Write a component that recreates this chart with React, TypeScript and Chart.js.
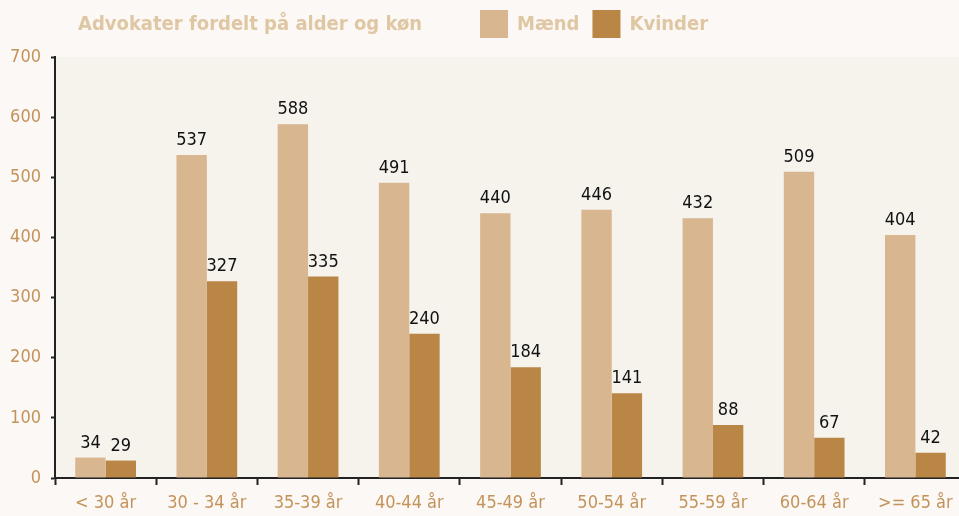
import React, { useEffect, useRef } from 'react';
import { Chart, registerables } from 'chart.js';

Chart.register(...registerables);

const chartTitle = 'Advokater fordelt på alder og køn';
const categories = ['< 30 år', '30 - 34 år', '35-39 år', '40-44 år', '45-49 år', '50-54 år', '55-59 år', '60-64 år', '>= 65 år'];
const seriesNames = ['Mænd', 'Kvinder'];
const maend = [34, 537, 588, 491, 440, 446, 432, 509, 404];
const kvinder = [29, 327, 335, 240, 184, 141, 88, 67, 42];
const yMin = 0;
const yMax = 700;
const yStep = 100;

const COLORS = ['#d7b690', '#b98646'];
const PAGE_BG = '#fbf8f5';
const PLOT_BG = '#f6f2ec';
const TITLE_COLOR = '#e0c7a4';
const TICK_COLOR = '#c4935a';
const AXIS_COLOR = '#222222';
const FONT = '"DejaVu Sans Condensed", "DejaVu Sans", sans-serif';

const W = 966;
const H = 516;

const backgroundPlugin = {
  id: 'bgPlugin',
  beforeDraw(chart: any) {
    const { ctx, chartArea } = chart;
    ctx.save();
    ctx.fillStyle = PAGE_BG;
    ctx.fillRect(0, 0, chart.width, chart.height);
    ctx.fillStyle = PLOT_BG;
    ctx.fillRect(chartArea.left, chartArea.top, chart.width - chartArea.left, chartArea.bottom - chartArea.top);
    ctx.restore();
  },
};

const headerPlugin = {
  id: 'headerPlugin',
  afterDraw(chart: any) {
    const { ctx } = chart;
    ctx.save();
    ctx.font = `bold 20px ${FONT}`;
    ctx.fillStyle = TITLE_COLOR;
    ctx.textBaseline = 'alphabetic';
    ctx.textAlign = 'left';
    ctx.fillText(chartTitle, 78, 30);
    let x = 480;
    chart.data.datasets.forEach((ds: any) => {
      ctx.fillStyle = ds.backgroundColor;
      ctx.fillRect(x, 10, 28, 28);
      ctx.fillStyle = TITLE_COLOR;
      ctx.fillText(ds.label, x + 37, 30);
      x = x + 37 + ctx.measureText(ds.label).width + 13;
    });
    ctx.restore();
  },
};

const valueLabelPlugin = {
  id: 'valueLabels',
  afterDatasetsDraw(chart: any) {
    const { ctx } = chart;
    ctx.save();
    ctx.font = `18px ${FONT}`;
    ctx.fillStyle = '#111111';
    ctx.textAlign = 'center';
    ctx.textBaseline = 'alphabetic';
    chart.data.datasets.forEach((ds: any, i: number) => {
      const meta = chart.getDatasetMeta(i);
      meta.data.forEach((bar: any, j: number) => {
        ctx.fillText(String(ds.data[j]), bar.x, bar.y - 10);
      });
    });
    ctx.restore();
  },
};

export default function App() {
  const ref = useRef<HTMLCanvasElement | null>(null);

  useEffect(() => {
    if (!ref.current) return;
    const chart = new Chart(ref.current, {
      type: 'bar',
      data: {
        labels: categories,
        datasets: [
          { label: seriesNames[0], data: maend, backgroundColor: COLORS[0], barPercentage: 1.0, categoryPercentage: 0.6 },
          { label: seriesNames[1], data: kvinder, backgroundColor: COLORS[1], barPercentage: 1.0, categoryPercentage: 0.6 },
        ],
      },
      options: {
        responsive: false,
        animation: false,
        devicePixelRatio: 1,
        layout: { padding: { top: 57, left: 0, right: 0, bottom: 0 } },
        plugins: {
          legend: { display: false },
          title: { display: false },
          tooltip: { enabled: false },
        },
        scales: {
          x: {
            grid: { offset: true, drawOnChartArea: false, drawTicks: true, tickLength: 7, tickColor: AXIS_COLOR, tickWidth: 2 },
            border: { color: AXIS_COLOR, width: 2 },
            ticks: { color: TICK_COLOR, font: { family: FONT, size: 18 }, padding: 8, maxRotation: 0, autoSkip: false },
            afterFit: (s: any) => { s.height = 38; },
          },
          y: {
            min: yMin,
            max: yMax,
            grid: { drawOnChartArea: false, drawTicks: true, tickLength: 4, tickColor: AXIS_COLOR, tickWidth: 2 },
            border: { color: AXIS_COLOR, width: 2 },
            ticks: { stepSize: yStep, color: TICK_COLOR, font: { family: FONT, size: 18 }, padding: 10 },
            afterFit: (s: any) => { s.width = 55; },
          },
        },
      },
      plugins: [backgroundPlugin, valueLabelPlugin, headerPlugin],
    });
    return () => chart.destroy();
  }, []);

  return (
    <div style={{ position: 'fixed', left: 0, top: 0, width: 959, height: 516, overflow: 'hidden', background: PAGE_BG }}>
      <canvas ref={ref} width={W} height={H} style={{ display: 'block', width: W, height: H }} />
    </div>
  );
}
